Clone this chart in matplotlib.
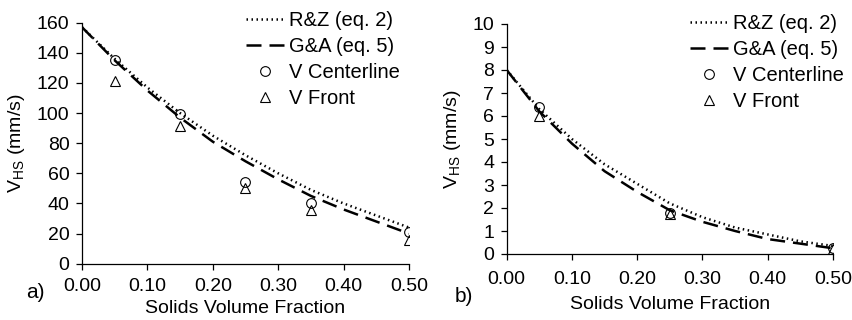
import matplotlib
matplotlib.use("Agg")
import matplotlib.pyplot as plt

plt.rcParams['font.family'] = ['Liberation Sans', 'DejaVu Sans']
plt.rcParams['mathtext.fontset'] = 'custom'
plt.rcParams['mathtext.rm'] = 'Liberation Sans'

# ---- data ----
phi_curve = [0.00, 0.05, 0.10, 0.15, 0.20, 0.25, 0.30, 0.35, 0.40, 0.45, 0.50]
a_rz = [157, 136, 117, 100, 85, 72, 60, 49, 40, 32, 24]
a_ga = [157, 135, 115, 97, 81, 68, 56, 45, 36, 28, 20]
a_phi_pts = [0.05, 0.15, 0.25, 0.35, 0.50]
a_center = [135.5, 99.5, 54.5, 40.0, 21.0]
a_front = [121.0, 91.5, 50.5, 35.5, 15.5]

b_rz = [8.0, 6.3, 5.0, 3.9, 3.05, 2.2, 1.6, 1.15, 0.85, 0.55, 0.35]
b_ga = [8.0, 6.2, 4.8, 3.6, 2.7, 1.9, 1.4, 1.0, 0.65, 0.45, 0.25]
b_phi_pts = [0.05, 0.25, 0.50]
b_center = [6.4, 1.8, 0.28]
b_front = [6.0, 1.75, 0.2]

xticks = [0.0, 0.1, 0.2, 0.3, 0.4, 0.5]
a_yticks = list(range(0, 161, 20))
b_yticks = list(range(0, 11, 1))
legend_labels = ['R&Z (eq. 2)', 'G&A (eq. 5)', 'V Centerline', 'V Front']

W, H = 853, 320
fig = plt.figure(figsize=(W / 100, H / 100), dpi=100)

def px(l, r, t, b):
    return [l / W, 1 - b / H, (r - l) / W, (b - t) / H]

axa = fig.add_axes(px(82, 409, 22.7, 263.7))
axb = fig.add_axes(px(506.7, 833, 24, 254))

FS = 14

def draw(ax, rz, ga, pts, cen, fr, yticks, ymax, leg_anchor, tag, tagpos, xpad, xlpad):
    ax.plot(phi_curve, rz, color='black', lw=1.8, linestyle=(0, (0.6, 1.4)),
            dash_capstyle='butt', label=legend_labels[0])
    ax.plot(phi_curve, ga, color='black', lw=1.8, linestyle=(0, (6, 3.2)),
            label=legend_labels[1])
    ax.plot(pts, cen, linestyle='none', marker='o', ms=7, mfc='none',
            mec='black', mew=0.8, label=legend_labels[2])
    ax.plot(pts, fr, linestyle='none', marker='^', ms=7, mfc='none',
            mec='black', mew=0.8, label=legend_labels[3])
    ax.set_xlim(0, 0.5)
    ax.set_ylim(0, ymax)
    ax.set_xticks(xticks)
    ax.set_xticklabels([f'{v:.2f}' for v in xticks])
    ax.set_yticks(yticks)
    ax.set_yticklabels([str(v) for v in yticks])
    for s in ['top', 'right']:
        ax.spines[s].set_visible(False)
    for s in ['left', 'bottom']:
        ax.spines[s].set_linewidth(0.9)
    ax.tick_params(direction='out', length=4, width=0.9, labelsize=FS)
    ax.tick_params(axis='y', pad=5)
    ax.tick_params(axis='x', pad=xpad)
    ax.set_xlabel('Solids Volume Fraction', fontsize=FS, labelpad=xlpad)
    ax.set_ylabel(r'V$_{\mathregular{HS}}$ (mm/s)', fontsize=FS, labelpad=7)
    ax.legend(loc='upper right', bbox_to_anchor=leg_anchor,
              bbox_transform=fig.transFigure, frameon=False, fontsize=FS + 0.5,
              handlelength=1.9, handletextpad=0.25, labelspacing=0.35,
              borderpad=0, borderaxespad=0)
    fig.text(tagpos[0] / W, 1 - tagpos[1] / H, tag, fontsize=FS + 1,
             ha='left', va='center')

draw(axa, a_rz, a_ga, a_phi_pts, a_center, a_front, a_yticks, 160,
     (400 / W, 1 - 11 / H), 'a)', (26, 293), 6, 4)
draw(axb, b_rz, b_ga, b_phi_pts, b_center, b_front, b_yticks, 10,
     (844 / W, 1 - 14 / H), 'b)', (455, 296), 8, 6)

fig.savefig('out.png', dpi=100)
